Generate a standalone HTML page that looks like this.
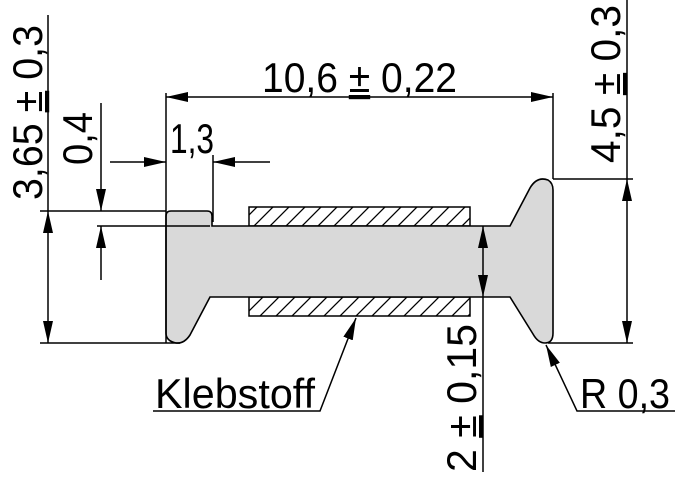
<!DOCTYPE html>
<html><head><style>body{margin:0;background:#fff}svg{display:block}text{font-family:"Liberation Sans",sans-serif;font-size:42px;fill:#000}</style></head><body>
<svg width="675" height="480" viewBox="0 0 675 480" xmlns="http://www.w3.org/2000/svg">
<defs>
<pattern id="h" patternUnits="userSpaceOnUse" width="16" height="16">
<path d="M-4,20 L20,-4 M-12,12 L12,-12 M4,28 L28,4" stroke="#000" stroke-width="1.3"/>
</pattern>
<marker id="a" markerWidth="22" markerHeight="10" refX="22" refY="5" orient="auto" markerUnits="userSpaceOnUse"><path d="M0,0 L22,5 L0,10z" fill="#000"/></marker>
<marker id="b" markerWidth="22" markerHeight="10" refX="0" refY="5" orient="auto" markerUnits="userSpaceOnUse"><path d="M22,0 L0,5 L22,10z" fill="#000"/></marker>
</defs>
<rect x="249" y="207" width="221" height="19" fill="url(#h)" stroke="#000" stroke-width="1.5"/>
<rect x="249" y="297" width="221" height="19" fill="url(#h)" stroke="#000" stroke-width="1.5"/>
<path d="M166,216 Q166,211 171,211 L207,211 Q212,211 212,216 L212,226 L510,226 L530,188 Q537,176 548,180 Q553,183 553,190 L553,333 Q553,343 545,343 Q538,343 533,334 L510,297 L210,297 L190,335 Q184,344 176,343 Q166,341 166,333 Z" fill="#d9d9d9" stroke="#000" stroke-width="1.6"/>
<g stroke="#000" stroke-width="1.5" fill="none">
<line x1="166" y1="93" x2="166" y2="343"/>
<line x1="553" y1="93" x2="553" y2="179"/>
<line x1="166" y1="97" x2="553" y2="97" marker-start="url(#b)" marker-end="url(#a)"/>
<line x1="553" y1="179" x2="633" y2="179"/>
<line x1="548" y1="343" x2="633" y2="343"/>
<line x1="627" y1="0" x2="627" y2="179"/>
<line x1="627" y1="179" x2="627" y2="343" marker-start="url(#b)" marker-end="url(#a)"/>
<line x1="40" y1="211" x2="166" y2="211"/>
<line x1="40" y1="343" x2="180" y2="343"/>
<line x1="48" y1="15" x2="48" y2="211"/>
<line x1="48" y1="211" x2="48" y2="343" marker-start="url(#b)" marker-end="url(#a)"/>
<line x1="97" y1="226" x2="210" y2="226"/>
<line x1="101" y1="103" x2="101" y2="211" marker-end="url(#a)"/>
<line x1="101" y1="280" x2="101" y2="226" marker-end="url(#a)"/>
<line x1="213" y1="155" x2="213" y2="222"/>
<line x1="110" y1="162" x2="166" y2="162" marker-end="url(#a)"/>
<line x1="270" y1="162" x2="213" y2="162" marker-end="url(#a)"/>
<line x1="483" y1="226" x2="483" y2="297" marker-start="url(#b)" marker-end="url(#a)"/>
<line x1="483" y1="297" x2="483" y2="472"/>
<polyline points="153,411 320,411 356,318" marker-end="url(#a)"/>
<polyline points="675,411 577,411 546,345" marker-end="url(#a)"/>
</g>
<text x="262" y="92" textLength="195" lengthAdjust="spacingAndGlyphs">10,6 <tspan text-decoration="underline">±</tspan> 0,22</text>
<text x="170" y="153" textLength="44" lengthAdjust="spacingAndGlyphs">1,3</text>
<text x="155" y="408" textLength="160" lengthAdjust="spacingAndGlyphs">Klebstoff</text>
<text x="580" y="408" textLength="90" lengthAdjust="spacingAndGlyphs">R 0,3</text>
<text transform="translate(42,200) rotate(-90)" textLength="175" lengthAdjust="spacingAndGlyphs">3,65 <tspan text-decoration="underline">±</tspan> 0,3</text>
<text transform="translate(92,165) rotate(-90)" textLength="53" lengthAdjust="spacingAndGlyphs">0,4</text>
<text transform="translate(620,163) rotate(-90)" textLength="158" lengthAdjust="spacingAndGlyphs">4,5 <tspan text-decoration="underline">±</tspan> 0,3</text>
<text transform="translate(476,472) rotate(-90)" textLength="148" lengthAdjust="spacingAndGlyphs">2 <tspan text-decoration="underline">±</tspan> 0,15</text>
</svg>
</body></html>
